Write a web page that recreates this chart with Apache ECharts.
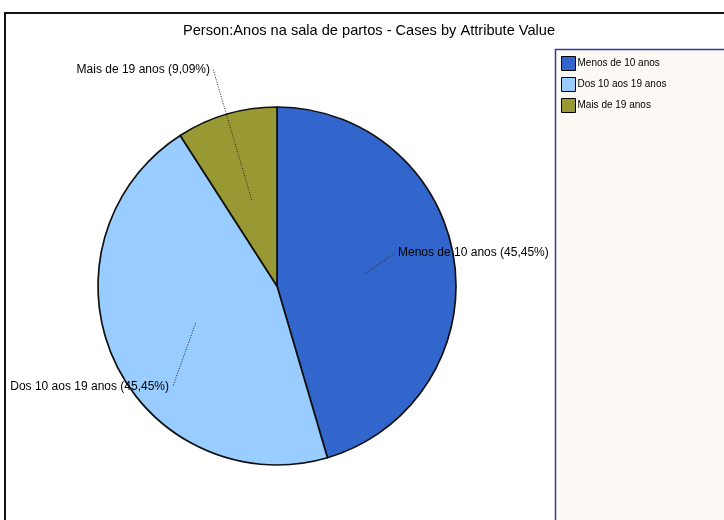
<!DOCTYPE html>
<html>
<head>
<meta charset="utf-8">
<script src="https://cdn.jsdelivr.net/npm/echarts@6/dist/echarts.min.js"></script>
<style>html,body{margin:0;padding:0;background:#fff;}#c{width:724px;height:520px;}</style>
</head>
<body>
<div id="c"></div>
<script>
const categories = ['Menos de 10 anos', 'Dos 10 aos 19 anos', 'Mais de 19 anos'];
const caseCounts = [5, 5, 1];
const sliceColors = ['#3366cc', '#99ccff', '#999933'];
const chartTitle = 'Person:Anos na sala de partos - Cases by Attribute Value';

const CENTER = [277, 286];
const RADIUS = 179;
// label placement (layout only)
const labelPlace = [
  {x: 398, y: 253, align: 'left', end: [395, 253]},
  {x: 169, y: 387, align: 'right', end: [173, 386]},
  {x: 210, y: 70, align: 'right', end: [213, 69]}
];

const chart = echarts.init(document.getElementById('c'), null, {renderer: 'canvas'});
const fontFam = '"Liberation Sans", Arial, sans-serif';
const total = caseCounts.reduce((a, b) => a + b, 0);

const frameGraphics = [
  {id: 'frame', type: 'rect', z: -10, shape: {x: 5, y: 13, width: 1000, height: 1000},
   style: {fill: 'none', stroke: '#111', lineWidth: 2}},
  {id: 'legbox', type: 'rect', z: 0, shape: {x: 555.5, y: 49.5, width: 400, height: 700},
   style: {fill: '#fdf9f4', stroke: '#3a3a9c', lineWidth: 1.5}}
];

chart.setOption({
  backgroundColor: '#ffffff',
  animation: false,
  title: {
    text: chartTitle,
    left: 183, top: 23, padding: 0,
    textStyle: {fontFamily: fontFam, fontSize: 14.6, fontWeight: 'normal', color: '#000'}
  },
  graphic: frameGraphics,
  legend: {
    orient: 'vertical',
    left: 561, top: 56, padding: 0,
    itemWidth: 14, itemHeight: 14, itemGap: 6,
    icon: 'rect',
    data: categories,
    itemStyle: {borderColor: '#000', borderWidth: 1},
    textStyle: {fontFamily: fontFam, fontSize: 10, color: '#000', padding: [0,0,0,-3]}
  },
  series: [{
    type: 'pie',
    center: CENTER,
    radius: RADIUS,
    startAngle: 90,
    clockwise: true,
    silent: true,
    color: sliceColors,
    itemStyle: {borderColor: '#111', borderWidth: 1.7},
    label: {
      show: true, position: 'outside', overflow: 'none',
      fontFamily: fontFam, fontSize: 12, color: '#000',
      formatter: p => p.name + ' (' + (p.value / total * 100).toFixed(2).replace('.', ',') + '%)'
    },
    labelLine: {show: false},
    labelLayout: function (params) {
      const lp = labelPlace[params.dataIndex];
      return {x: lp.x, y: lp.y, align: lp.align, verticalAlign: 'middle'};
    },
    data: categories.map((n, i) => ({name: n, value: caseCounts[i]}))
  }]
});

// leader lines from the middle of each sector (library layout) to its label
const pieData = chart.getModel().getSeriesByIndex(0).getData();
const leaders = [];
for (let i = 0; i < pieData.count(); i++) {
  const lay = pieData.getItemLayout(i);
  const mid = (lay.startAngle + lay.endAngle) / 2;
  const rr = lay.r * 0.5;
  const inner = [lay.cx + rr * Math.cos(mid), lay.cy + rr * Math.sin(mid)];
  leaders.push({id: 'lead' + i, type: 'polyline', z: 100,
    shape: {points: [inner, labelPlace[i].end]},
    style: {stroke: '#222', lineWidth: 1, lineDash: [1, 1.5], fill: null}});
}
chart.setOption({graphic: frameGraphics.concat(leaders)});
</script>
</body>
</html>
